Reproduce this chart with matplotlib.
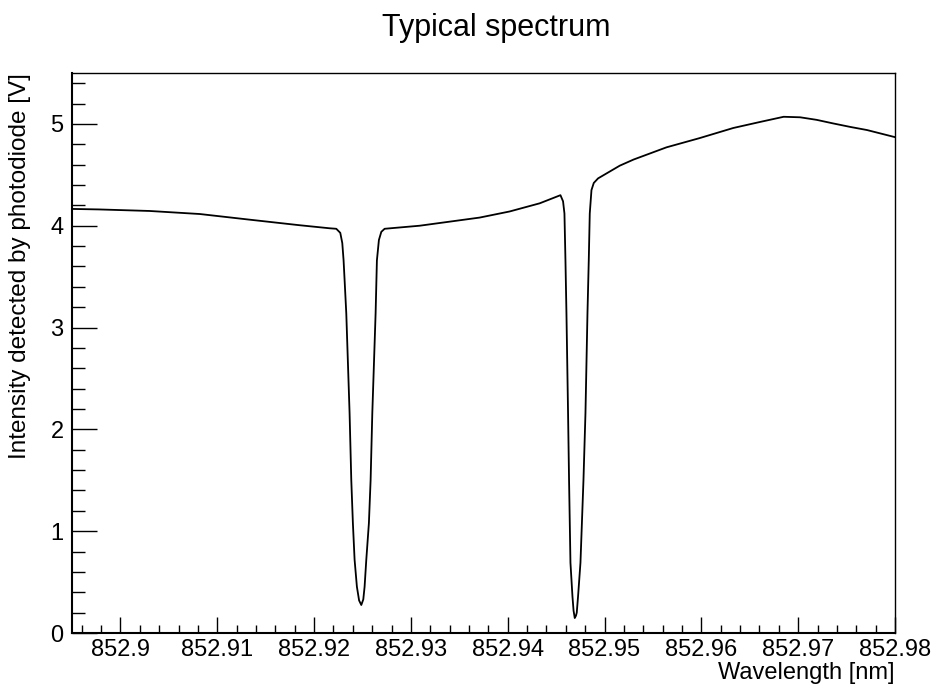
import matplotlib
matplotlib.use("Agg")
import matplotlib.pyplot as plt
from matplotlib.ticker import MultipleLocator, FuncFormatter

plt.rcParams['font.family'] = ['Liberation Sans', 'DejaVu Sans']

# Wavelength [nm] and photodiode intensity [V]
wavelength = [
    852.8950, 852.8978, 852.9030, 852.9082, 852.9133, 852.9185, 852.9216,
    # first absorption dip
    852.922295, 852.922708, 852.922915, 852.923049, 852.923152, 852.923328,
    852.923669, 852.923845, 852.924010, 852.924186, 852.924424, 852.924651,
    852.924879, 852.925085, 852.925220, 852.925395, 852.925664, 852.925840,
    852.926016, 852.926357, 852.926491, 852.926698, 852.926946, 852.927287,
    # continuum between dips
    852.9309, 852.9340, 852.9371, 852.9402, 852.9433,
    # second absorption dip
    852.945447, 852.945716, 852.945860, 852.945964, 852.946067, 852.946233,
    852.946336, 852.946481, 852.946687, 852.946801, 852.946925, 852.947049,
    852.947132, 852.947266, 852.947514, 852.947824, 852.948031, 852.948238,
    852.948372, 852.948475, 852.948651, 852.948889, 852.949333,
    # continuum to the right
    852.951576, 852.9530, 852.9564, 852.9598, 852.9633, 852.9661, 852.9685,
    852.9702, 852.9719, 852.9736, 852.9754, 852.9771, 852.9800,
]
intensity = [
    4.165, 4.16, 4.145, 4.115, 4.06, 4.005, 3.975,
    3.97, 3.93, 3.83, 3.66, 3.47, 3.14,
    2.16, 1.50, 1.08, 0.72, 0.455, 0.32,
    0.275, 0.33, 0.455, 0.72, 1.08, 1.50,
    2.16, 3.14, 3.66, 3.86, 3.94, 3.97,
    4.00, 4.04, 4.08, 4.14, 4.22,
    4.30, 4.24, 4.12, 3.66, 3.14, 2.16,
    1.50, 0.69, 0.36, 0.22, 0.147, 0.17,
    0.20, 0.36, 0.69, 1.50, 2.16, 3.14,
    3.66, 4.12, 4.35, 4.42, 4.465,
    4.59, 4.65, 4.77, 4.86, 4.96, 5.02, 5.07,
    5.065, 5.04, 5.005, 4.97, 4.94, 4.87,
]

title = "Typical spectrum"
xlabel = "Wavelength [nm]"
ylabel = "Intensity detected by photodiode [V]"

fig = plt.figure(figsize=(9.33, 6.85), dpi=100)
ax = fig.add_axes([72/933, 1 - 633/685, (895-72)/933, (633-73)/685])

ax.plot(wavelength, intensity, color='black', lw=1.3)

ax.set_xlim(852.895, 852.98)
ax.set_ylim(0, 5.5)

ax.xaxis.set_major_locator(MultipleLocator(0.01))
ax.xaxis.set_minor_locator(MultipleLocator(0.002))
ax.yaxis.set_major_locator(MultipleLocator(1))
ax.yaxis.set_minor_locator(MultipleLocator(0.2))
ax.xaxis.set_major_formatter(FuncFormatter(lambda v, p: f"{v:.2f}".rstrip('0')))
ax.yaxis.set_major_formatter(FuncFormatter(lambda v, p: f"{v:g}"))

ax.tick_params(axis='x', which='major', direction='in', length=11.5, width=1, labelsize=17, pad=4, top=False)
ax.tick_params(axis='x', which='minor', direction='in', length=6, width=1, top=False)
ax.tick_params(axis='y', which='major', direction='in', length=18, width=1, labelsize=17, pad=6, right=False)
ax.tick_params(axis='y', which='minor', direction='in', length=9, width=1, right=False)

for s in ['left', 'bottom']:
    ax.spines[s].set_linewidth(1.5)
for s in ['top', 'right']:
    ax.spines[s].set_linewidth(1.0)

fig.text(496/933, 1 - 28/685, title, ha='center', va='center', fontsize=22)
fig.text(895/933, 1 - 673/685, xlabel, ha='right', va='center', fontsize=17)
fig.text(20/933, 1 - 73/685, ylabel, ha='center', va='top', rotation=90, fontsize=17.5)

fig.savefig("out.png", dpi=100)
